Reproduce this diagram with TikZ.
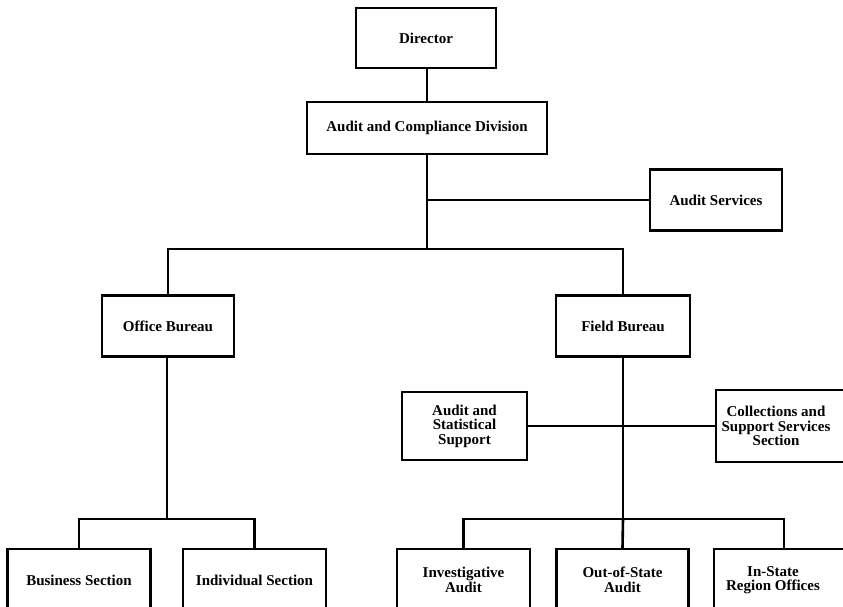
\documentclass[tikz,border=0pt]{standalone}
\usepackage{fontspec}
\setmainfont{Liberation Serif}
\begin{document}
\begin{tikzpicture}[x=1pt,y=-1pt,
  orgbox/.style={draw, line width=2.2pt, inner sep=0pt, align=center,
    font=\bfseries\fontsize{15}{14.5}\selectfont},
  label/.style={inner sep=0pt, align=center,
    font=\bfseries\fontsize{15}{14.5}\selectfont},
  link/.style={line width=2.6pt}]
\useasboundingbox (0,0) rectangle (843,607);
\clip (0,0) rectangle (843,607);

% top of the chart
\node[orgbox, minimum width=140pt, minimum height=60pt] (dir) at (426,38) {Director};
\node[orgbox, minimum width=240pt, minimum height=52pt] (acd) at (427,128) {Audit and Compliance Division};
\node[orgbox, minimum width=132pt, minimum height=61pt] (aus) at (716,200) {Audit Services};

% bureaus
\node[orgbox, minimum width=132pt, minimum height=61pt] (ob) at (168,326) {Office Bureau};
\node[orgbox, minimum width=134pt, minimum height=61pt] (fb) at (623,326) {Field Bureau};

% field bureau staff units
\node[orgbox, minimum width=125pt, minimum height=68pt] (ass) at (464.5,426) {Audit and\\Statistical\\Support};
\node[orgbox, minimum width=136pt, minimum height=72pt] (coll) at (784,426) {};
\node[label] at (776,426) {Collections and\\Support Services\\Section};

% sections (run off the lower edge)
\node[orgbox, minimum width=143pt, minimum height=62pt] (bus) at (79,580) {Business Section};
\node[orgbox, minimum width=143pt, minimum height=62pt] (ind) at (254.5,580) {Individual Section};
\node[orgbox, minimum width=133pt, minimum height=62pt] (inv) at (463.5,580) {Investigative\\Audit};
\node[orgbox, minimum width=132pt, minimum height=62pt] (oos) at (622.5,580) {Out-of-State\\Audit};
\node[orgbox, minimum width=140pt, minimum height=62pt] (ins) at (784,580) {};
\node[label] at (773,580) {In-State\\Region Offices};

% junctions
\coordinate (j1) at (427,249);
\coordinate (j2) at (167,519);
\coordinate (j3) at (623,519);

% connectors
\draw[link] (dir.south -| acd.north) -- (acd.north);
\draw[link] (acd.south) -- (j1);
\draw[link] (acd.south |- aus.west) -- (aus.west);
\draw[link] (ob.north) |- (j1) -| (fb.north);
\draw[link] (ob.south -| j2) -- (j2);
\draw[link] (bus.north) |- (j2) -| (ind.north);
\draw[link] (fb.south) -- (j3);
\draw[link] (ass.east) -- (coll.west);
\draw[link] (inv.north) |- (j3) -| (ins.north);
\draw[link] (j3) -- (oos.north);
\end{tikzpicture}
\end{document}
